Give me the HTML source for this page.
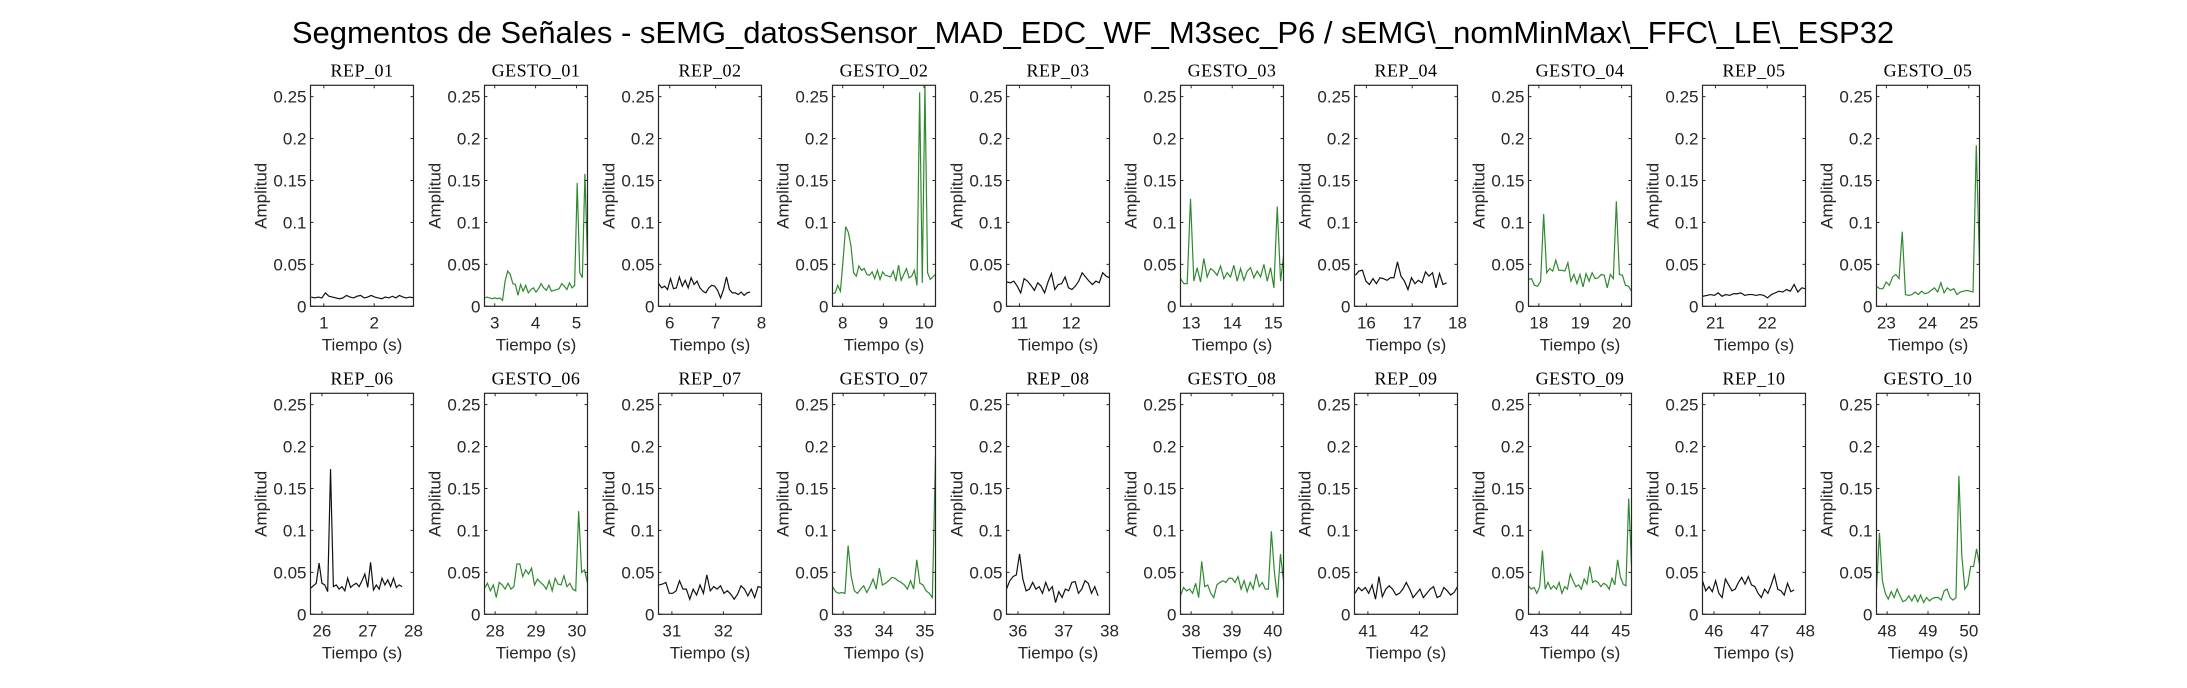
<!DOCTYPE html>
<html><head><meta charset="utf-8"><style>
html,body{margin:0;padding:0;background:#fff;}
svg{display:block;}
</style></head><body>
<svg id="chart" width="2187" height="688" viewBox="0 0 2187 688" xmlns="http://www.w3.org/2000/svg">
<rect width="2187" height="688" fill="#fff"/>
<text x="1093" y="43" text-anchor="middle" font-family="Liberation Sans, sans-serif" font-size="31" fill="#000">Segmentos de Señales - sEMG_datosSensor_MAD_EDC_WF_M3sec_P6 / sEMG\_nomMinMax\_FFC\_LE\_ESP32</text>
</svg>
<script>
const panelTitles = ["REP_01","GESTO_01","REP_02","GESTO_02","REP_03","GESTO_03","REP_04","GESTO_04","REP_05","GESTO_05","REP_06","GESTO_06","REP_07","GESTO_07","REP_08","GESTO_08","REP_09","GESTO_09","REP_10","GESTO_10"];
const xMins = [0.735,2.75,5.755,7.75,10.75,12.74,15.74,17.75,20.75,22.76,25.75,27.74,30.74,32.74,35.75,37.74,40.74,42.74,45.75,47.74];
const xMaxs = [2.78,5.27,8.0,10.28,12.74,15.25,17.99,20.24,22.74,25.26,28.0,30.26,32.74,35.26,38.0,40.26,42.74,45.26,48.0,50.26];
const tStarts = [0.75,2.75,5.76,7.75,10.76,12.74,15.76,17.75,20.76,22.76,25.75,27.74,30.75,32.74,35.75,37.74,40.75,42.74,45.75,47.74];
const tEnds = [2.78,5.27,7.75,10.28,12.74,15.26,17.75,20.24,22.74,25.26,27.75,30.26,32.74,35.26,37.75,40.26,42.74,45.26,47.75,50.26];
const yTicks = [0,0.05,0.1,0.15,0.2,0.25];
const yTickLabels = ["0","0.05","0.1","0.15","0.2","0.25"];
const yMax = 0.2635;
const s01 = [0.011,0.010,0.011,0.010,0.016,0.012,0.011,0.010,0.009,0.010,0.013,0.011,0.010,0.012,0.013,0.010,0.011,0.013,0.011,0.010,0.009,0.011,0.010,0.012,0.010,0.013,0.011,0.010,0.011,0.010];
const g01 = [0.010,0.011,0.010,0.009,0.010,0.009,0.010,0.007,0.030,0.042,0.038,0.027,0.026,0.013,0.026,0.018,0.025,0.016,0.020,0.022,0.017,0.021,0.027,0.022,0.019,0.025,0.018,0.019,0.020,0.021,0.027,0.024,0.020,0.028,0.022,0.025,0.147,0.040,0.034,0.158,0.055];
const s02 = [0.027,0.022,0.024,0.020,0.033,0.021,0.022,0.035,0.024,0.031,0.022,0.034,0.026,0.030,0.022,0.018,0.016,0.022,0.025,0.024,0.019,0.010,0.020,0.035,0.020,0.016,0.016,0.014,0.017,0.013,0.016,0.017];
const g02 = [0.015,0.016,0.025,0.018,0.055,0.095,0.088,0.072,0.040,0.036,0.048,0.043,0.045,0.038,0.037,0.041,0.033,0.043,0.032,0.041,0.037,0.036,0.035,0.042,0.030,0.049,0.031,0.038,0.045,0.034,0.036,0.043,0.025,0.255,0.028,0.263,0.040,0.032,0.035,0.038];
const s03 = [0.029,0.028,0.030,0.024,0.016,0.033,0.030,0.025,0.019,0.028,0.024,0.016,0.029,0.039,0.020,0.026,0.027,0.035,0.022,0.020,0.024,0.030,0.040,0.035,0.030,0.026,0.030,0.028,0.040,0.036,0.034];
const g03 = [0.033,0.027,0.027,0.128,0.030,0.046,0.029,0.057,0.035,0.045,0.042,0.037,0.048,0.033,0.040,0.035,0.049,0.030,0.045,0.031,0.042,0.046,0.034,0.042,0.035,0.050,0.030,0.046,0.022,0.119,0.030,0.063];
const s04 = [0.037,0.042,0.043,0.030,0.026,0.033,0.027,0.034,0.033,0.031,0.034,0.034,0.053,0.036,0.030,0.020,0.034,0.027,0.031,0.028,0.041,0.036,0.040,0.022,0.039,0.026,0.028];
const g04 = [0.032,0.033,0.025,0.024,0.030,0.110,0.040,0.045,0.042,0.055,0.043,0.043,0.042,0.052,0.030,0.038,0.027,0.038,0.023,0.039,0.030,0.040,0.033,0.034,0.038,0.037,0.022,0.038,0.033,0.125,0.038,0.037,0.025,0.024,0.018];
const s05 = [0.012,0.013,0.014,0.013,0.016,0.012,0.014,0.013,0.015,0.015,0.016,0.013,0.014,0.014,0.013,0.014,0.013,0.010,0.014,0.016,0.018,0.017,0.020,0.018,0.026,0.017,0.022,0.021];
const g05 = [0.024,0.021,0.021,0.029,0.025,0.035,0.038,0.033,0.089,0.014,0.013,0.014,0.017,0.014,0.018,0.015,0.016,0.019,0.022,0.017,0.028,0.016,0.022,0.019,0.021,0.014,0.017,0.018,0.019,0.018,0.017,0.192,0.050];
const s06 = [0.031,0.034,0.037,0.061,0.037,0.035,0.027,0.173,0.033,0.035,0.030,0.033,0.028,0.043,0.032,0.035,0.037,0.033,0.040,0.048,0.032,0.062,0.029,0.035,0.030,0.043,0.035,0.041,0.033,0.043,0.032,0.035,0.033];
const g06 = [0.031,0.037,0.028,0.035,0.020,0.038,0.035,0.030,0.037,0.030,0.033,0.060,0.060,0.045,0.053,0.048,0.055,0.035,0.042,0.038,0.035,0.030,0.040,0.028,0.043,0.036,0.035,0.046,0.033,0.037,0.030,0.028,0.123,0.050,0.053,0.037];
const s07 = [0.035,0.036,0.038,0.025,0.025,0.028,0.040,0.030,0.030,0.018,0.030,0.023,0.035,0.025,0.047,0.028,0.033,0.030,0.034,0.025,0.028,0.024,0.018,0.024,0.034,0.030,0.022,0.030,0.020,0.033,0.032];
const g07 = [0.033,0.027,0.025,0.026,0.025,0.082,0.045,0.028,0.025,0.030,0.034,0.026,0.033,0.042,0.030,0.055,0.035,0.037,0.040,0.044,0.043,0.040,0.038,0.035,0.030,0.040,0.030,0.065,0.037,0.035,0.028,0.025,0.020,0.190];
const s08 = [0.030,0.040,0.045,0.047,0.072,0.042,0.028,0.030,0.038,0.030,0.033,0.025,0.038,0.028,0.033,0.014,0.027,0.020,0.030,0.028,0.038,0.039,0.025,0.030,0.040,0.037,0.025,0.033,0.022];
const g08 = [0.022,0.032,0.028,0.030,0.025,0.037,0.020,0.063,0.033,0.035,0.025,0.020,0.035,0.038,0.040,0.038,0.043,0.043,0.038,0.045,0.030,0.040,0.027,0.038,0.030,0.048,0.033,0.038,0.030,0.030,0.099,0.050,0.020,0.072,0.040];
const s09 = [0.025,0.032,0.028,0.032,0.025,0.035,0.018,0.045,0.021,0.030,0.034,0.030,0.023,0.025,0.030,0.038,0.030,0.020,0.025,0.030,0.020,0.025,0.030,0.033,0.020,0.022,0.032,0.028,0.023,0.026,0.033];
const g09 = [0.034,0.030,0.032,0.025,0.033,0.076,0.030,0.038,0.030,0.034,0.030,0.038,0.025,0.033,0.030,0.048,0.040,0.033,0.035,0.030,0.042,0.036,0.057,0.038,0.040,0.038,0.033,0.037,0.035,0.030,0.043,0.035,0.065,0.045,0.036,0.034,0.138,0.058];
const s10 = [0.040,0.028,0.033,0.027,0.040,0.025,0.020,0.042,0.035,0.028,0.030,0.038,0.044,0.036,0.045,0.035,0.033,0.025,0.020,0.030,0.025,0.035,0.047,0.030,0.028,0.023,0.037,0.027,0.029];
const g10 = [0.030,0.097,0.040,0.025,0.018,0.027,0.020,0.030,0.022,0.015,0.017,0.022,0.016,0.023,0.015,0.023,0.014,0.020,0.016,0.019,0.020,0.020,0.017,0.028,0.030,0.020,0.017,0.020,0.165,0.070,0.030,0.035,0.057,0.057,0.078,0.060];
const seriesList = [s01,g01,s02,g02,s03,g03,s04,g04,s05,g05,s06,g06,s07,g07,s08,g08,s09,g09,s10,g10];

const NS = "http://www.w3.org/2000/svg";
const svg = document.getElementById("chart");
function mk(tag, attrs, parent){const e=document.createElementNS(NS,tag);for(const k in attrs)e.setAttribute(k,attrs[k]);(parent||svg).appendChild(e);return e;}
const AX_W = 103, PITCH = 174, LEFT0 = 310.5;
const rowsTop = [85.3, 393.3], AX_H = 221;
const FS = "17";
for (let i=0;i<20;i++){
  const row = i<10?0:1, col = i%10;
  const L = LEFT0 + PITCH*col, T = rowsTop[row], B = T+AX_H, R = L+AX_W;
  const xmin=xMins[i], xmax=xMaxs[i];
  const xs = v => L + (v-xmin)/(xmax-xmin)*AX_W;
  const ys = v => B - v/yMax*AX_H;
  const g = mk("g",{});
  
  
  const isG = panelTitles[i].startsWith("GESTO");
  const vals = seriesList[i];
  const n = vals.length, t0=tStarts[i], t1=tEnds[i];
  let d="";
  vals.forEach((v,k)=>{const t=t0+(t1-t0)*k/(n-1);const yy=Math.max(T,ys(v));d+=(k?"L":"M")+xs(t).toFixed(2)+","+yy.toFixed(2);});
  const clipId="c"+i;
  const cp=mk("clipPath",{id:clipId},g); mk("rect",{x:L,y:T,width:AX_W,height:AX_H},cp);
  const line = mk("path",{d:d,fill:"none",stroke:isG?"#2f8a2f":"#111","stroke-width":"1.2","clip-path":"url(#"+clipId+")"},g);
  
  
  const box = mk("rect",{x:L,y:T,width:AX_W,height:AX_H,fill:"none",stroke:"#262626","stroke-width":"1.2"},g);
  
  
  yTicks.forEach((v,k)=>{
    const y=ys(v);
    mk("line",{x1:L,x2:L+3,y1:y,y2:y,stroke:"#262626"},g);
    mk("line",{x1:R,x2:R-3,y1:y,y2:y,stroke:"#262626"},g);
    const tl=mk("text",{x:L-4,y:y+6,"text-anchor":"end","font-family":"Liberation Sans, sans-serif","font-size":FS,fill:"#262626"},g);
    tl.textContent=yTickLabels[k];
    
    
  });
  for(let t=Math.ceil(xmin-1e-9);t<=xmax+0.02;t++){
    const x=Math.min(xs(t),R);
    mk("line",{x1:x,x2:x,y1:B,y2:B-3,stroke:"#262626"},g);
    mk("line",{x1:x,x2:x,y1:T,y2:T+3,stroke:"#262626"},g);
    const tl=mk("text",{x:x,y:B+22,"text-anchor":"middle","font-family":"Liberation Sans, sans-serif","font-size":FS,fill:"#262626"},g);
    tl.textContent=String(t);
    
    
  }
  const xl=mk("text",{x:L+AX_W/2,y:B+44,"text-anchor":"middle","font-family":"Liberation Sans, sans-serif","font-size":FS,fill:"#262626"},g);
  xl.textContent="Tiempo (s)";
  
  
  const yc=T+AX_H/2, xc=L-44;
  const yl=mk("text",{x:xc,y:yc,"text-anchor":"middle","font-family":"Liberation Sans, sans-serif","font-size":FS,fill:"#262626",transform:"rotate(-90 "+xc+" "+yc+")"},g);
  yl.textContent="Amplitud";
  
  
  const st=mk("text",{x:L+AX_W/2,y:T-9,"text-anchor":"middle","font-family":"Liberation Serif, serif","font-size":"18",fill:"#000","letter-spacing":"0.5"},g);
  st.textContent=panelTitles[i];
  
  
}
</script>
</body></html>
